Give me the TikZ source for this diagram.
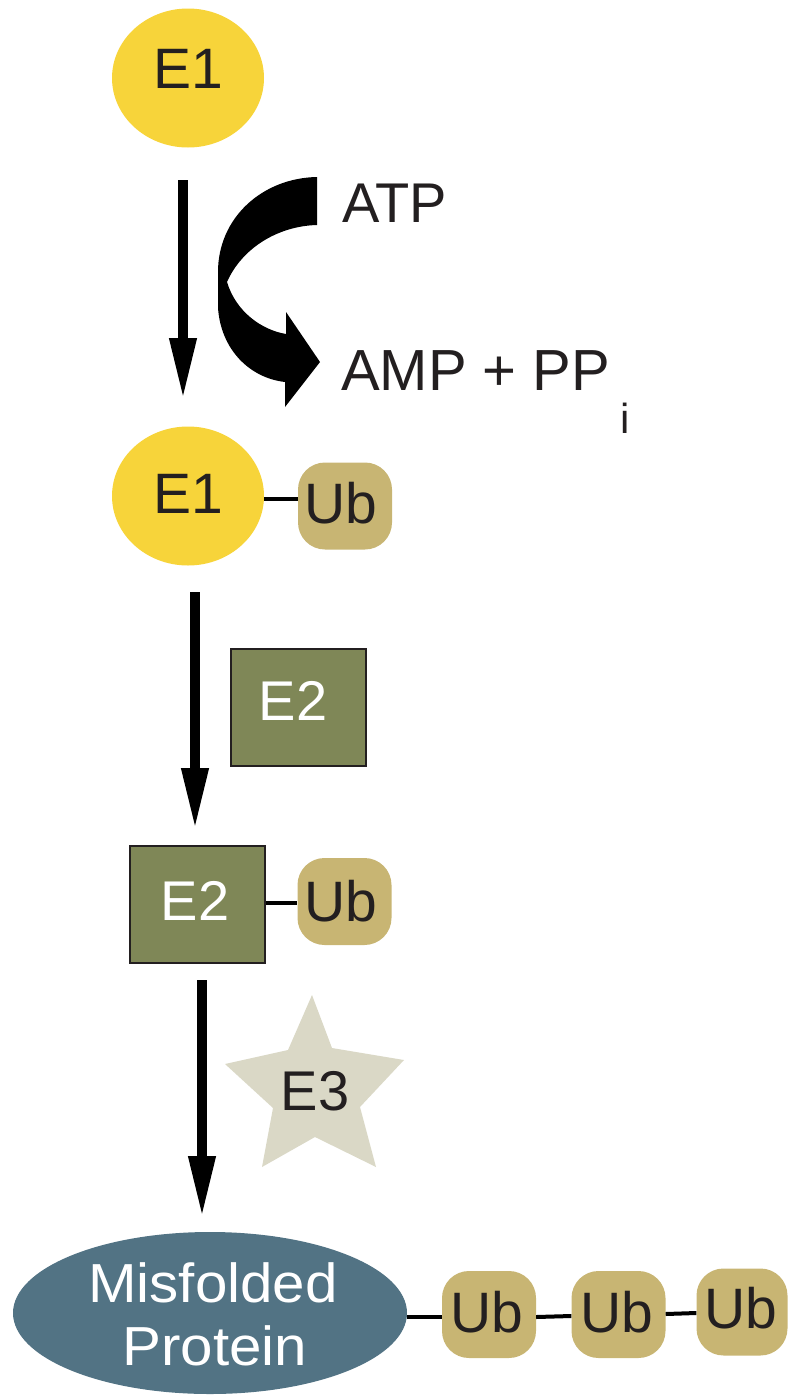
\documentclass[tikz,border=0pt]{standalone}
\usepackage{fontspec}
\setmainfont{Liberation Sans}
\newfontfamily\widesans[FakeStretch=1.06]{Liberation Sans}
\usetikzlibrary{shapes.geometric,arrows.meta}
\definecolor{eoneyellow}{HTML}{F7D43A}
\definecolor{ubtan}{HTML}{C8B573}
\definecolor{etwoolive}{HTML}{7F8757}
\definecolor{ethreestar}{HTML}{DAD8C6}
\definecolor{protblue}{HTML}{527384}
\definecolor{inkdark}{HTML}{231F20}
\tikzset{
  bigtext/.style={inner sep=0pt, anchor=base, font=\fontsize{57}{68}\selectfont, text=inkdark},
  eoneshape/.style={ellipse, fill=eoneyellow, inner sep=0pt, minimum width=152pt, minimum height=139pt},
  ubbox/.style={rectangle, rounded corners=27pt, fill=ubtan, inner sep=0pt, minimum width=94pt, minimum height=87pt},
  etwobox/.style={rectangle, fill=etwoolive, draw=inkdark, line width=1.8pt, inner sep=0pt, minimum width=135pt, minimum height=117pt},
  link/.style={line width=4pt, black},
  flowarrow/.style={line width=10pt, black, -{Triangle[length=62pt,width=25pt]}},
}
\begin{document}
\begin{tikzpicture}[x=1pt,y=-1pt]
\useasboundingbox (0,0) rectangle (788,1395);

% E1 top
\node[eoneshape] (e1a) at (188,78) {};
\node[bigtext] (e1at) at (188,88) {E1};

% arrow 1
\coordinate (a1s) at (183,180);
\coordinate (a1e) at (183,400);
\draw[flowarrow] (a1s) -- (a1e);

% curved ATP arrow
\fill[black] (317,177) .. controls (262,178) and (218,218) .. (218,272)
  -- (218,308) .. controls (221,350) and (250,378) .. (285,382)
  -- (285,407) -- (320,362) -- (286,312) -- (286,334)
  .. controls (262,330) and (236,312) .. (227,282)
  .. controls (242,248) and (278,226) .. (317,225) -- cycle;
\node[bigtext, anchor=base west, font=\fontsize{56}{67}\selectfont] (atp) at (342,222) {ATP};
\node[bigtext, anchor=base west, font=\fontsize{58}{70}\selectfont] (amp) at (341,390) {AMP + PP};
\node[bigtext, anchor=base west, font=\fontsize{42}{50}\selectfont] (ampi) at (620,433) {i};

% E1-Ub
\node[eoneshape] (e1b) at (188,496) {};
\node[bigtext] (e1bt) at (188,513) {E1};
\node[ubbox] (ub1) at (345,506) {};
\node[bigtext] (ub1t) at (341,523) {Ub};
\draw[link] (e1b.east |- 0,499) -- (ub1.west |- 0,499);

% arrow 2 and E2
\coordinate (a2s) at (195,592);
\coordinate (a2e) at (195,830);
\draw[flowarrow] (a2s) -- (a2e);
\node[etwobox] (e2a) at (298.5,707.5) {};
\node[bigtext, text=white, font=\fontsize{56}{67}\selectfont] (e2at) at (293,720) {E2};

% E2-Ub
\node[etwobox] (e2b) at (197.5,904.5) {};
\node[bigtext, text=white, font=\fontsize{56}{67}\selectfont] (e2bt) at (195,920) {E2};
\node[ubbox] (ub2) at (344.5,901.5) {};
\node[bigtext] (ub2t) at (341,921) {Ub};
\draw[link] (e2b.east |- 0,903) -- (ub2.west |- 0,903);

% arrow 3 and E3
\coordinate (a3s) at (202,980);
\coordinate (a3e) at (202,1218);
\draw[flowarrow] (a3s) -- (a3e);
\fill[ethreestar] (312,995) -- (332,1048) -- (404,1060) -- (360,1107) -- (376,1167)
  -- (315,1137) -- (262,1167) -- (273,1108) -- (225,1064) -- (288,1050) -- cycle;
\node[bigtext, font=\fontsize{56}{67}\selectfont] (e3t) at (315,1110) {E3};

% misfolded protein with Ub chain
\node[ellipse, fill=protblue, inner sep=0pt, minimum width=394pt, minimum height=162pt] (prot) at (210,1313) {};
\node[bigtext, text=white, font=\widesans\fontsize{55}{66}\selectfont] (prott1) at (213,1302) {Misfolded};
\node[bigtext, text=white, font=\widesans\fontsize{55}{66}\selectfont] (prott2) at (215,1365) {Protein};
\node[ubbox] (ub3) at (489,1314.5) {};
\node[bigtext] (ub3t) at (487,1332) {Ub};
\node[ubbox] (ub4) at (618.5,1314.5) {};
\node[bigtext] (ub4t) at (616.5,1332) {Ub};
\node[ubbox, minimum width=91pt] (ub5) at (742,1312) {};
\node[bigtext] (ub5t) at (740.5,1328) {Ub};
\draw[link] (prot.east |- 0,1317) -- (ub3.west |- 0,1317);
\draw[link] (ub3.east |- 0,1317) -- (ub4.west |- 0,1316);
\draw[link] (ub4.east |- 0,1314) -- (ub5.west |- 0,1313);
\end{tikzpicture}
\end{document}
